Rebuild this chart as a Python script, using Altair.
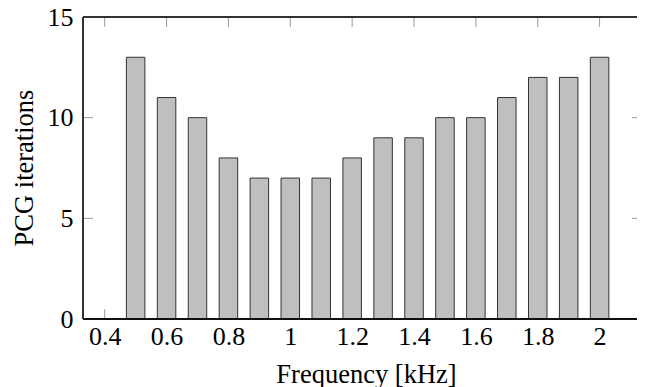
import altair as alt
import pandas as pd

freqs = [0.5, 0.6, 0.7, 0.8, 0.9, 1.0, 1.1, 1.2, 1.3, 1.4, 1.5, 1.6, 1.7, 1.8, 1.9, 2.0]
iters = [13, 11, 10, 8, 7, 7, 7, 8, 9, 9, 10, 10, 11, 12, 12, 13]
xticks = [0.4, 0.6, 0.8, 1.0, 1.2, 1.4, 1.6, 1.8, 2.0]
yticks = [0, 5, 10, 15]

W, H = 554, 302
X0 = 0.346
X1 = X0 + W / 315.0
FONT = "Liberation Serif"

bars_df = pd.DataFrame({"f": freqs, "n": iters})
xt_df = pd.DataFrame({"t": xticks})
yt_df = pd.DataFrame({"t": yticks})

xscale = alt.Scale(domain=[X0, X1], nice=False, zero=False)
yscale = alt.Scale(domain=[0, 15], nice=False)

tick_color = "#9a9a9a"
frame_color = "#333333"

xt_bottom = alt.Chart(xt_df).mark_rule(color=tick_color, strokeWidth=1).encode(
    x=alt.X("t:Q", scale=xscale), y=alt.value(H), y2=alt.value(H - 10))
xt_top = alt.Chart(xt_df).mark_rule(color=tick_color, strokeWidth=1).encode(
    x=alt.X("t:Q", scale=xscale), y=alt.value(0), y2=alt.value(10))
yt_left = alt.Chart(yt_df).mark_rule(color=tick_color, strokeWidth=1).encode(
    y=alt.Y("t:Q", scale=yscale), x=alt.value(0), x2=alt.value(10))
yt_right = alt.Chart(yt_df).mark_rule(color=tick_color, strokeWidth=1).encode(
    y=alt.Y("t:Q", scale=yscale), x=alt.value(W), x2=alt.value(W - 5))

frame_top = alt.Chart(xt_df).mark_rule(color=frame_color, strokeWidth=1.2).encode(
    x=alt.value(0), x2=alt.value(W), y=alt.value(0))
frame_bottom = alt.Chart(xt_df).mark_rule(color="#111111", strokeWidth=1.2).encode(
    x=alt.value(0), x2=alt.value(W), y=alt.value(H))
frame_left = alt.Chart(xt_df).mark_rule(color=frame_color, strokeWidth=1.2).encode(
    x=alt.value(0), y=alt.value(0), y2=alt.value(H))

bars = alt.Chart(bars_df).mark_bar(
    size=18.5, fill="#bfbfbf", stroke="#333333", strokeWidth=1
).encode(
    x=alt.X("f:Q", scale=xscale, title="Frequency [kHz]",
            axis=alt.Axis(values=xticks, labelExpr="format(datum.value, '~g')",
                          titleX=283, titleY=63, titleBaseline="alphabetic")),
    y=alt.Y("n:Q", scale=yscale, title="PCG iterations",
            axis=alt.Axis(values=yticks, titleX=-51, titleY=150.5,
                          titleBaseline="alphabetic")),
)

chart = alt.layer(xt_bottom, xt_top, yt_left, yt_right, bars,
                  frame_top, frame_bottom, frame_left).properties(
    width=W, height=H,
    padding={"left": 75, "top": 9, "right": 0, "bottom": 69},
    autosize=alt.AutoSizeParams(type="none"),
).configure_view(
    stroke=None
).configure_axis(
    ticks=False, tickSize=0, domain=False, grid=False,
    labelFont=FONT, labelFontSize=26, labelColor="black",
    titleFont=FONT, titleFontSize=26.5, titleFontWeight="normal", titleColor="black",
).configure_axisX(
    labelPadding=4,
).configure_axisY(
    labelPadding=10,
)

chart.save("out.html", embed_options={"renderer": "svg", "actions": False})
